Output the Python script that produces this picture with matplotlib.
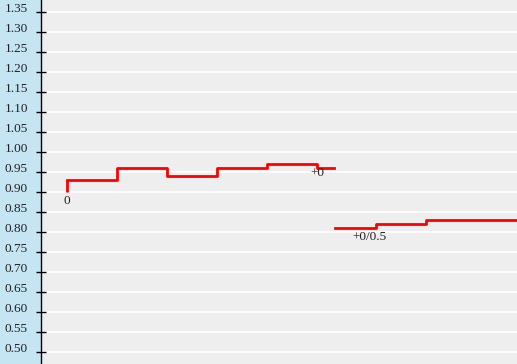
import matplotlib.pyplot as plt
import numpy as np

# first run: steps then short tail
run1_x = [0, 1, 2, 3, 4, 5, 5.33]
run1_y = [0.93, 0.96, 0.94, 0.96, 0.97, 0.96, 0.96]
run1_start = 0.90

# second run
run2_x = [5.35, 6.17, 7.17, 9.1]
run2_y = [0.81, 0.82, 0.83, 0.83]

# text, x, y (top of text)
labels = [("0", 0, 0.893), ("+0", 4.86, 0.962), ("+0/0.5", 5.7, 0.802)]

yticks = np.arange(0.50, 1.351, 0.05)

fig = plt.figure(figsize=(5.17, 3.64), dpi=100)
fig.patch.set_facecolor("#c4e5f1")
ax = fig.add_axes([41 / 517, 0, 476 / 517, 1])
ax.set_facecolor("#eeeeee")

ax.set_xlim(-0.52, 9.0)
ax.set_ylim(0.47, 1.38)

ax.set_yticks(yticks)
ax.set_yticklabels([f"{v:.2f}" for v in yticks], family="Liberation Serif",
                   fontsize=9.5, color="#222222", va="baseline")
ax.tick_params(axis="y", direction="inout", length=7, width=1, pad=6)
ax.set_xticks([])
ax.grid(axis="y", color="white", linewidth=1.2)
ax.set_axisbelow(True)
for s in ["top", "right", "bottom"]:
    ax.spines[s].set_visible(False)
ax.spines["left"].set_linewidth(1)

# vertical lead-in of the first run
ax.plot([run1_x[0], run1_x[0]], [run1_start, run1_y[0]], color="red", lw=2,
        solid_capstyle="butt")
ax.step(run1_x, run1_y, where="post", color="red", lw=2)
ax.step(run2_x, run2_y, where="post", color="red", lw=2)

for txt, x, y in labels:
    ax.text(x, y, txt, ha="center" if txt == "0" else "left", va="top",
            family="Liberation Serif", fontsize=9.5, color="#222222")

fig.savefig("out.png", dpi=100)
